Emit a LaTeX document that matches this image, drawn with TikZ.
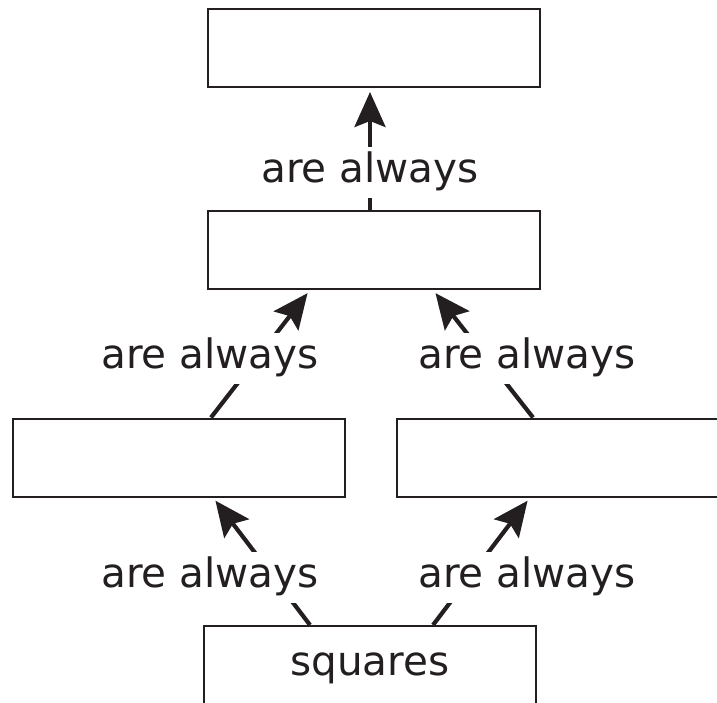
\documentclass[tikz,border=0pt]{standalone}
\usepackage{fontspec}
\setmainfont{DejaVu Sans}
\usetikzlibrary{arrows.meta}
\usetikzlibrary{positioning}
\definecolor{ink}{HTML}{231F20}

\begin{document}
\begin{tikzpicture}[x=1pt, y=-1pt,
  box/.style={draw=ink, line width=2pt, minimum width=332pt, minimum height=78pt,
    inner sep=0pt, text height=30pt, text depth=9pt,
    font=\fontsize{40.5}{48}\selectfont, text=ink},
  link/.style={draw=ink, line width=4.2pt,
    -{Stealth[length=35pt, width=31pt, inset=6pt]}, shorten >=4pt},
  lbl/.style={fill=white, inner sep=6pt, text height=30pt, text depth=9pt,
    font=\fontsize{40.5}{48}\selectfont, text=ink}]

% page size
\useasboundingbox (0,0) rectangle (717,702);

% boxes
\node[box] (top)   at (374,48)    {};
\node[box] (mid)   at (374,250)   {};
\node[box] (left)  at (179,457.5) {};
\node[box] (right) at (563,457.5) {};
\node[box] (sq)    at (370,665)   {squares};

% arrows
\draw[link] ([xshift=-4pt]mid.north)  -- ([xshift=-4pt]top.south);
\draw[link] ([xshift=32pt]left.north)  -- ([xshift=-64pt]mid.south);
\draw[link] ([xshift=-30pt]right.north) -- ([xshift=59pt]mid.south);
\draw[link] ([xshift=-60pt]sq.north)  -- ([xshift=34pt]left.south);
\draw[link] ([xshift=63pt]sq.north)   -- ([xshift=-33pt]right.south);

% labels on the arrows
\node[lbl] (l1) at (370,172) {are always};
\node[lbl] (l2) at (210,358) {are always};
\node[lbl] (l3) at (527,358) {are always};
\node[lbl] (l4) at (210,577) {are always};
\node[lbl] (l5) at (527,577) {are always};

\end{tikzpicture}
\end{document}
